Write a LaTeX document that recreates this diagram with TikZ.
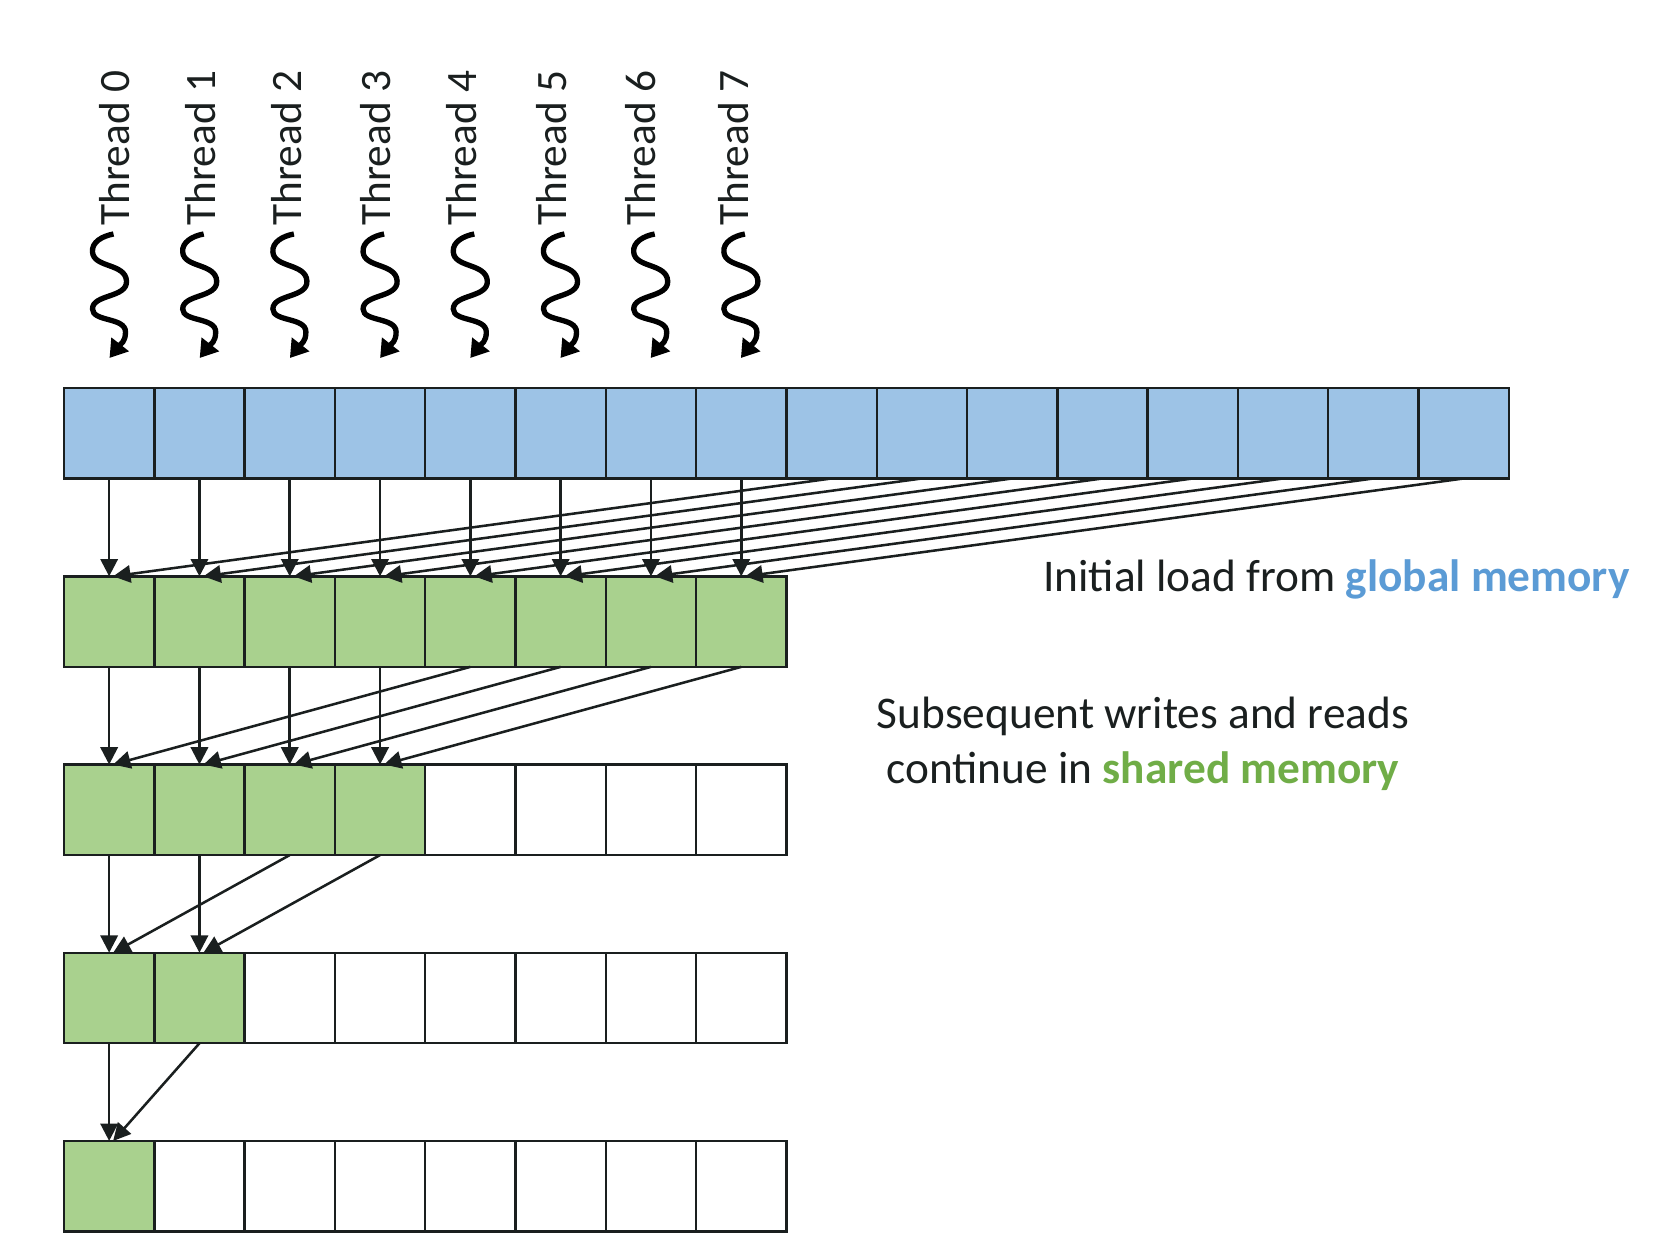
\documentclass[tikz,border=0pt]{standalone}
\usepackage{fontspec}
\setmainfont{Carlito}
\usetikzlibrary{arrows.meta}
\definecolor{cellblue}{HTML}{9DC3E6}
\definecolor{cellgreen}{HTML}{A9D18E}
\definecolor{txtblue}{HTML}{5B9BD5}
\definecolor{txtgreen}{HTML}{70AD47}
\definecolor{ink}{HTML}{1A1F1F}
\tikzset{
  cellbox/.style={draw=ink,line width=1.8pt,minimum width=67.72pt,minimum height=67.9pt,inner sep=0pt,outer sep=0pt},
  conn/.style={draw=ink,line width=1.9pt,-{Triangle[length=13pt,width=13pt]}},
  threadlabel/.style={rotate=90,anchor=base west,inner sep=0pt,font=\fontsize{32.5}{33}\selectfont,text=ink},
  squig/.style={draw=black,line width=4pt,-{Triangle[length=13pt,width=16pt]}},
  note/.style={inner sep=0pt,font=\fontsize{34}{41}\selectfont,text=ink,align=center}
}
\begin{document}
\begin{tikzpicture}[x=0.75pt,y=-0.75pt]
\useasboundingbox (0,0) rectangle (1674,1234);
% memory rows
\foreach \i in {0,...,15} \node[cellbox,fill=cellblue] (c-0-\i) at ({64+90.3*(\i+.5)},433.2) {};
\foreach \r/\y/\n in {1/621.6/8,2/809.8/4,3/998.0/2,4/1186.2/1}{
  \foreach \i in {0,...,7}{
    \ifnum\i<\n\relax
      \node[cellbox,fill=cellgreen] (c-\r-\i) at ({64+90.3*(\i+.5)},\y) {};
    \else
      \node[cellbox,fill=white] (c-\r-\i) at ({64+90.3*(\i+.5)},\y) {};
    \fi
  }
}
% straight arrows and diagonal arrows
\foreach \r/\s/\n in {0/1/8,1/2/4,2/3/2,3/4/1}{
  \pgfmathtruncatemacro{\m}{\n-1}
  \foreach \i in {0,...,\m}{
    \pgfmathtruncatemacro{\j}{\i+\n}
    \draw[conn] (c-\r-\i.south) -- (c-\s-\i.north);
    \draw[conn] (c-\r-\j.south) -- ([xshift=3pt]c-\s-\i.north);
  }
}
% threads
\foreach \i/\bx in {0/129,1/215,2/301,3/390,4/476,5/566,6/655,7/748}{
  \node[threadlabel] (t-\i) at (\bx,226) {Thread \i};
  \coordinate (e-\i) at ({109.5+90.2*\i},358);
  \begin{scope}[shift={(e-\i)}]
  \coordinate (s-\i) at (4,-124);
  \draw[squig] (s-\i) .. controls (-7,-122) and (-18,-116) .. (-17,-106)
     .. controls (-16,-90) and (16,-95) .. (17,-77)
     .. controls (18,-60) and (-17,-64) .. (-17,-49)
     .. controls (-17,-36) and (16,-41) .. (16,-26)
     .. controls (16,-16) and (11,-14) .. (e-\i);
  \end{scope}
}
% notes
\node[note,anchor=base west] (n1) at (1043,591.5) {Initial load from \textcolor{txtblue}{\textbf{global memory}}};
\node[note,anchor=center] (n2) at (1143,744) {Subsequent writes and reads\\continue in \textcolor{txtgreen}{\textbf{shared memory}}};
\end{tikzpicture}
\end{document}
